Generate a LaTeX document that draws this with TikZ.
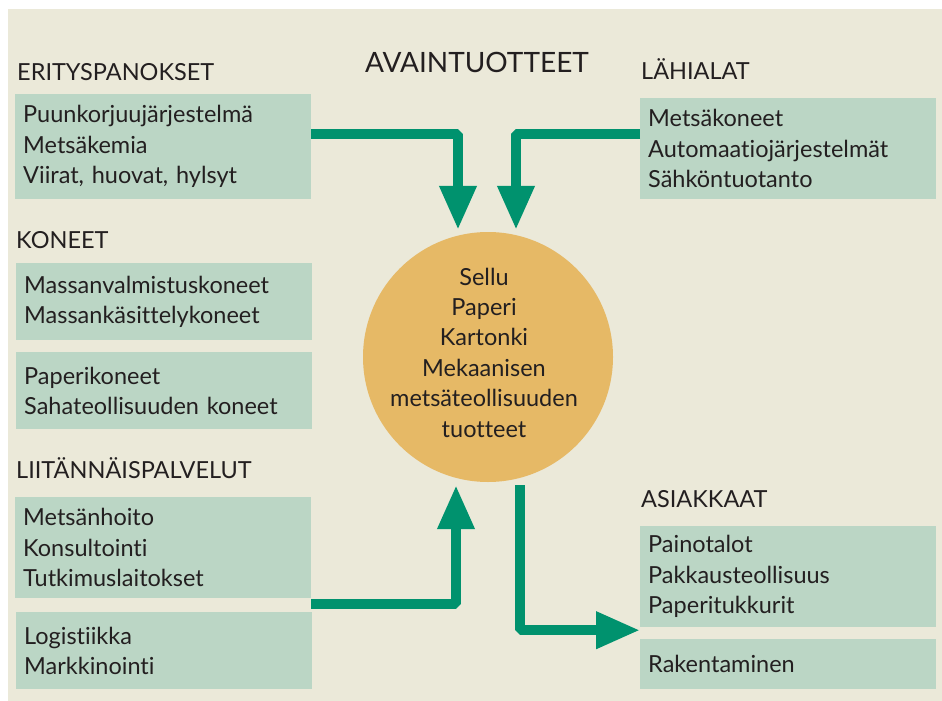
\documentclass[tikz,border=0pt]{standalone}
\usepackage{fontspec}
\setmainfont{Lato}[Ligatures=NoCommon]
\usepackage{tikz}
\usetikzlibrary{arrows.meta,positioning,calc}
\definecolor{bgbeige}{HTML}{EBE9D9}
\definecolor{boxgreen}{HTML}{BBD6C5}
\definecolor{flowgreen}{HTML}{00926E}
\definecolor{coreorange}{HTML}{E6B966}
\definecolor{inktext}{HTML}{231F20}
\tikzstyle{block} = [rectangle, fill=boxgreen, text=inktext, anchor=north west, text width=280pt, align=left, inner xsep=8pt, inner ysep=0pt, font=\fontsize{23.5}{30.5}\selectfont]
\tikzstyle{head} = [text=inktext, anchor=base west, inner sep=0pt, font=\fontsize{23.5}{30.5}\selectfont]
\tikzset{flow/.style = {
    draw=flowgreen, line width=10pt, line join=bevel,
    -{Triangle[length=44pt,width=35pt]},
  }
}

\begin{document}
\begin{tikzpicture}[x=1pt, y=-1pt]
            \useasboundingbox (0,0) rectangle (942,701);
            \fill[white] (0,0) rectangle (942,701);
            \fill[bgbeige] (8,9) rectangle (942,701);

            % headings
            \node[text=inktext, anchor=base, inner sep=0pt, font=\fontsize{28}{34}\selectfont] (title) at (477,72) {AVAINTUOTTEET};
            \node[head] (hspec) at (17,81) {ERITYSPANOKSET};
            \node[head] (hmach) at (16,248) {KONEET};
            \node[head] (hserv) at (16,478) {LIITÄNNÄISPALVELUT};
            \node[head] (hlah) at (641,80) {LÄHIALAT};
            \node[head] (hcust) at (641,507) {ASIAKKAAT};

            % boxes
            \node[block, minimum height=105pt] (spec) at (15,94) {Puunkorjuujärjestelmä\\Metsäkemia\\Viirat, huovat, hylsyt};
            \node[block, minimum height=77pt] (mach1) at (16,263) {Massanvalmistuskoneet\\Massankäsittelykoneet};
            \node[block, minimum height=77pt] (mach2) at (16,352) {Paperikoneet\\Sahateollisuuden koneet};
            \node[block, minimum height=101pt] (serv1) at (15,497) {Metsänhoito\\Konsultointi\\Tutkimuslaitokset};
            \node[block, minimum height=77pt] (serv2) at (16,612) {Logistiikka\\Markkinointi};
            \node[block, minimum height=101pt] (lah) at (640,98) {Metsäkoneet\\Automaatiojärjestelmät\\Sähköntuotanto};
            \node[block, minimum height=101pt] (cust1) at (640,526) {Painotalot\\Pakkausteollisuus\\Paperitukkurit};
            \node[block, minimum height=50pt] (cust2) at (640,639) {Rakentaminen};

            % key products
            \node[circle, fill=coreorange, minimum size=250pt, inner sep=0pt] (core) at (488,357) {};
            \node[text=inktext, align=center, inner sep=0pt, font=\fontsize{23.5}{30.4}\selectfont] (coretext) at (484,352.5) {Sellu\\Paperi\\Kartonki\\Mekaanisen\\metsäteollisuuden\\tuotteet};

            %flows
            \draw[flow] ([yshift=12.5pt]spec.east) -| ([xshift=-30pt,yshift=2pt]core.north);
            \draw[flow] ([yshift=14.5pt]lah.west) -| ([xshift=28pt,yshift=2pt]core.north);
            \draw[flow] ([yshift=-56.5pt]serv1.east) -| ([xshift=-32pt,yshift=-3pt]core.south);
            \draw[flow] ([xshift=32pt,yshift=-3pt]core.south) |- ([yshift=-53.5pt]cust1.west);

          \end{tikzpicture}
\end{document}
